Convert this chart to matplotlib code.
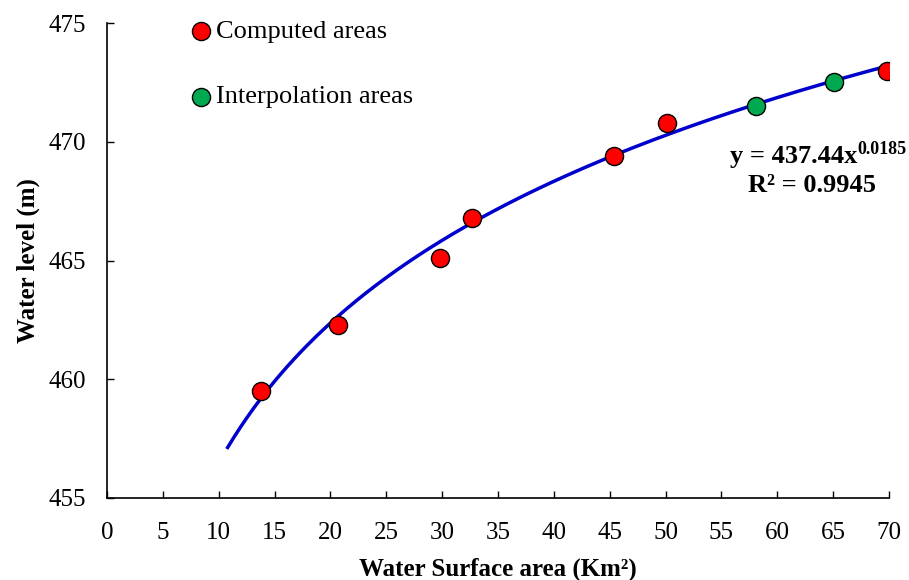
import numpy as np
import matplotlib.pyplot as plt

plt.rcParams['font.family'] = 'Liberation Serif'

# data
comp_x = [13.8, 20.7, 29.8, 32.7, 45.4, 50.1, 69.8]
comp_y = [459.5, 462.3, 465.1, 466.8, 469.4, 470.8, 473.0]
interp_x = [58.1, 65.1]
interp_y = [471.5, 472.5]
a, b = 437.44, 0.0185
fit_range = [10.8, 70.0]
xticks = list(range(0, 75, 5))
yticks = [455, 460, 465, 470, 475]

fig = plt.figure(figsize=(9.09, 5.8), dpi=100)
ax = fig.add_axes([0.1177, 0.1414, 0.8603, 0.8189])

xf = np.linspace(fit_range[0], fit_range[1], 200)
ax.plot(xf, a * xf**b, color='#0000CC', lw=2.5, zorder=2)

ax.scatter(comp_x, comp_y, s=170, c='#FF0000', edgecolors='black', linewidths=1.0,
           zorder=3, label='Computed areas')
ax.scatter(interp_x, interp_y, s=170, c='#00A84F', edgecolors='black', linewidths=1.0,
           zorder=3, label='Interpolation areas')

ax.set_xlim(0, 70)
ax.set_ylim(455, 475)
ax.set_xticks(xticks)
ax.set_yticks(yticks)
ax.tick_params(direction='in', labelsize=18, length=5, width=1)
ax.tick_params(axis='x', pad=17)
ax.tick_params(axis='y', pad=15)
for s in ['top', 'right']:
    ax.spines[s].set_visible(False)
for s in ['left', 'bottom']:
    ax.spines[s].set_linewidth(1.2)

ax.set_xlabel('Water Surface area (Km²)', fontsize=18, fontweight='bold', labelpad=10)
ax.set_ylabel('Water level (m)', fontsize=18, fontweight='bold', labelpad=6)

ax.legend(loc='upper left', bbox_to_anchor=(0.073, 1.03), frameon=False, fontsize=19,
          handletextpad=-0.45, labelspacing=1.6, borderaxespad=0)

t = ax.text(55.8, 469.4, 'y = 437.44x', fontsize=19, fontweight='bold', va='center',
            ha='left', clip_on=False)
ax.annotate('0.0185', xy=(1, 0.42), xycoords=t, fontsize=13, fontweight='bold',
            va='bottom', ha='left', annotation_clip=False)
ax.text(63.1, 468.15, 'R² = 0.9945', fontsize=19, fontweight='bold', va='center',
        ha='center', clip_on=False)

fig.savefig('out.png', dpi=100)
